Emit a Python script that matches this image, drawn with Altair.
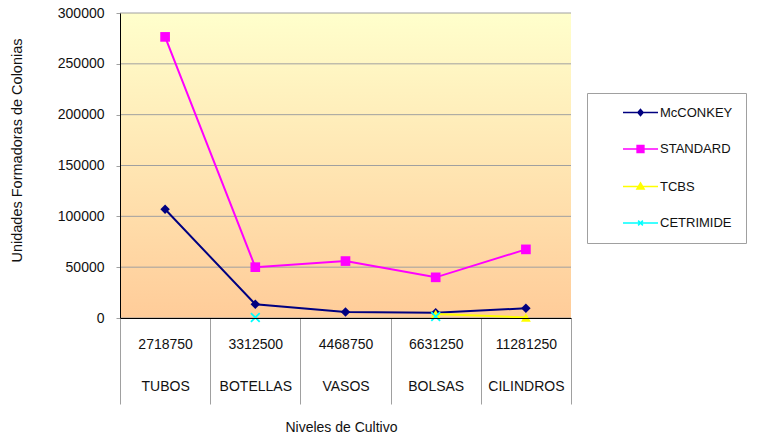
import altair as alt
import pandas as pd

# Niveles de cultivo (eje X de dos líneas: nivel y recipiente)
niveles = ["2718750", "3312500", "4468750", "6631250", "11281250"]
recipientes = ["TUBOS", "BOTELLAS", "VASOS", "BOLSAS", "CILINDROS"]

# Medios de cultivo y sus recuentos (UFC); None = sin dato
medios = ["McCONKEY", "STANDARD", "TCBS", "CETRIMIDE"]
mcconkey = [107000, 13500, 5900, 5200, 9500]
standard = [276500, 50000, 56000, 40000, 67500]
tcbs = [None, None, None, 4000, 500]
cetrimide = [None, 500, None, 1500, None]

valores_y = [0, 50000, 100000, 150000, 200000, 250000, 300000]

colores = ["#000080", "#FF00FF", "#FFFF00", "#00FFFF"]

# Marcadores de los puntos
ASPA = ("M-1,-0.75L-0.25,0L-1,0.75L-0.75,1L0,0.25L0.75,1L1,0.75L0.25,0"
        "L1,-0.75L0.75,-1L0,-0.25L-0.75,-1Z")
marcadores = ["diamond", "square", "triangle-up", ASPA]
tamanos = [90, 100, 90, 64]

# Símbolos de la leyenda: tramo de línea con el marcador en el centro
TRAMO = "M-8.75,0H8.75"
simbolos_leyenda = [
    TRAMO + "M0,-1.5L1.3,0L0,1.5L-1.3,0Z",
    TRAMO + "M-1.7,-1.7H1.7V1.7H-1.7Z",
    TRAMO + "M0,-1.8L1.8,1.3H-1.8Z",
    TRAMO + "M-1.2,-1.2L1.2,1.2M-1.2,1.2L1.2,-1.2",
]

FUENTE = "Liberation Sans"

orden = [f"{n}|{r}" for n, r in zip(niveles, recipientes)]
filas = []
for medio, serie in zip(medios, [mcconkey, standard, tcbs, cetrimide]):
    for cat, v in zip(orden, serie):
        filas.append({"categoria": cat, "medio": medio, "ufc": v})
datos = pd.DataFrame(filas)

eje_x = alt.Axis(
    title="Niveles de Cultivo",
    labelExpr="datum.value ? split(datum.value, '|') : ''",
    labelAngle=0,
    labelFont=FUENTE,
    labelFontSize=14,
    labelColor="#111111",
    labelLineHeight=42,
    labelBaseline="middle",
    labelPadding=-60,
    tickBand="extent",
    tickSize=86,
    tickColor="#a0a0a0",
    domainColor="#000000",
    titleFont=FUENTE,
    titleFontSize=14,
    titleFontWeight="normal",
    titleColor="#111111",
    titleY=109,
    titleX=221,
    titleBaseline="middle",
    zindex=1,
)

eje_y = alt.Axis(
    title="Unidades Formadoras de Colonias",
    values=valores_y,
    format="d",
    grid=False,
    tickSize=4,
    tickColor="#a0a0a0",
    domainColor="#000000",
    labelPadding=12,
    labelFont=FUENTE,
    labelFontSize=14,
    labelColor="#111111",
    titleFont=FUENTE,
    titleFontSize=14.5,
    titleFontWeight="normal",
    titleColor="#111111",
    titleAngle=270,
    titleX=-103,
    titleY=137,
    titleBaseline="middle",
    zindex=1,
)

x_enc = alt.X(
    "categoria:N",
    sort=orden,
    bandPosition=0.5,
    scale=alt.Scale(type="band", paddingInner=0, paddingOuter=0),
    axis=eje_x,
)
y_enc = alt.Y("ufc:Q", scale=alt.Scale(domain=[0, 300000]), axis=eje_y)

color_enc = alt.Color(
    "medio:N", scale=alt.Scale(domain=medios, range=colores), legend=None
)

# Fondo degradado del área de trazado
degradado = alt.LinearGradient(
    gradient="linear",
    stops=[
        alt.GradientStop(offset=0, color="#FFFFCC"),
        alt.GradientStop(offset=1, color="#FFCC99"),
    ],
    x1=0, x2=0, y1=0, y2=1,
)
fondo = alt.Chart(pd.DataFrame({"f": [0]})).mark_rect(color=degradado).encode(
    x=alt.value(0), x2=alt.value("width"), y=alt.value(0), y2=alt.value("height")
)

# Líneas de división horizontales
rejilla = alt.Chart(pd.DataFrame({"ufc": valores_y})).mark_rule(
    color="#a0a0a0", strokeWidth=1
).encode(y=y_enc)

lineas = alt.Chart(datos).mark_line(
    strokeWidth=2, invalid="break-paths-filter-domains"
).encode(x=x_enc, y=y_enc, color=color_enc, detail="medio:N")

puntos = alt.Chart(datos).transform_filter("isValid(datum.ufc)").mark_point(
    filled=True, opacity=1
).encode(
    x=x_enc,
    y=y_enc,
    color=color_enc,
    shape=alt.Shape("medio:N", scale=alt.Scale(domain=medios, range=marcadores), legend=None),
    size=alt.Size("medio:N", scale=alt.Scale(domain=medios, range=tamanos), legend=None),
)

leyenda_cfg = dict(
    title=None,
    orient="none",
    legendX=467,
    legendY=80,
    padding=13,
    rowPadding=22.5,
    strokeColor="#a0a0a0",
    fillColor="#ffffff",
    symbolSize=16,
    symbolStrokeWidth=1.5,
    symbolOffset=34,
    labelOffset=13,
    labelFont=FUENTE,
    labelFontSize=13,
    labelColor="#111111",
)

leyenda = alt.Chart(datos).transform_filter("false").mark_point(
    filled=True, opacity=1
).encode(
    shape=alt.Shape("medio:N", scale=alt.Scale(domain=medios, range=simbolos_leyenda),
                    legend=alt.Legend(**leyenda_cfg)),
    fill=alt.Fill("medio:N", scale=alt.Scale(domain=medios, range=colores),
                  legend=alt.Legend(**leyenda_cfg)),
    stroke=alt.Stroke("medio:N", scale=alt.Scale(domain=medios, range=colores),
                      legend=alt.Legend(**leyenda_cfg)),
)

chart = alt.layer(fondo, rejilla, lineas, puntos, leyenda).resolve_scale(
    shape="independent", fill="independent", stroke="independent"
).properties(
    width=451,
    height=305,
    autosize=alt.AutoSizeParams(type="none"),
    padding={"left": 120, "top": 13, "right": 187, "bottom": 119},
    background="#ffffff",
).configure_view(strokeWidth=0)

chart.save("out.html", embed_options={"renderer": "svg", "actions": False})
